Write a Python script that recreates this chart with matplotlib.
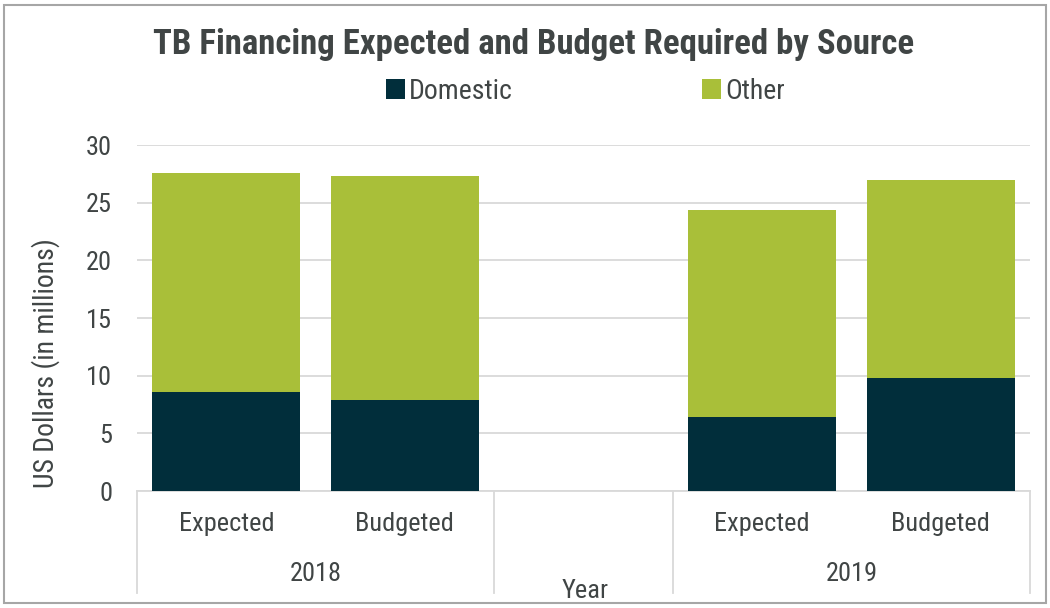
import numpy as np
import matplotlib.pyplot as plt
from matplotlib import font_manager
from matplotlib.patches import Rectangle
import matplotlib.transforms as mtransforms

# pick a condensed sans if one is installed
installed = {f.name for f in font_manager.fontManager.ttflist}
candidates = ['Roboto Condensed', 'Archivo Narrow', 'PT Sans Narrow', 'Fira Sans Condensed',
              'IBM Plex Sans Condensed', 'Open Sans Condensed', 'Barlow Condensed',
              'Encode Sans Condensed', 'Sofia Sans Condensed', 'Liberation Sans Narrow']
font = next((c for c in candidates if c in installed), 'DejaVu Sans')
plt.rcParams['font.family'] = [font, 'DejaVu Sans']

# data
bar_labels = ['Expected', 'Budgeted', '', 'Expected', 'Budgeted']
year_labels = ['2018', '2019']
year_slots = [(0, 1), (3, 4)]
domestic = [8.55, 7.87, np.nan, 6.41, 9.77]
other = [19.05, 19.48, np.nan, 17.99, 17.17]

c_dom = '#012E3B'
c_oth = '#A9BF39'
c_txt = '#404545'
c_grid = '#D9D9D9'

fig = plt.figure(figsize=(10.5, 6.08), dpi=100)
ax = fig.add_axes([0.1305, 0.1924, 0.8505, 0.5691])

x = np.arange(len(bar_labels))
dom = np.array(domestic)
oth = np.array(other)
ax.bar(x, dom, width=0.83, color=c_dom, label='Domestic', zorder=3)
ax.bar(x, oth, bottom=dom, width=0.83, color=c_oth, label='Other', zorder=3)

ax.set_xlim(-0.5, len(bar_labels) - 0.5)
ax.set_ylim(0, 30)
ax.set_yticks(range(0, 31, 5))
ax.yaxis.grid(True, color=c_grid, linewidth=1.3, zorder=0)
ax.tick_params(axis='y', length=0, labelsize=19, labelcolor=c_txt, pad=18)
ax.set_xticks([])
for s in ['top', 'right', 'left']:
    ax.spines[s].set_visible(False)
ax.spines['bottom'].set_color(c_grid)
ax.spines['bottom'].set_linewidth(1.3)
ax.set_ylabel('US Dollars (in millions)', fontsize=20, color=c_txt)
ax.yaxis.set_label_coords(-0.086, 0.37)

# category axis labels
trans = mtransforms.blended_transform_factory(ax.transData, ax.transAxes)
for i, lab in enumerate(bar_labels):
    ax.text(i, -0.095, lab, transform=trans, ha='center', va='center',
            fontsize=19, color=c_txt)
for (a, b), yl in zip(year_slots, year_labels):
    ax.text((a + b) / 2, -0.24, yl, transform=trans, ha='center', va='center',
            fontsize=19, color=c_txt)
for xs in [-0.5, 1.5, 2.5, 4.5]:
    ax.plot([xs, xs], [0, -0.295], transform=trans, color=c_grid,
            linewidth=1.3, clip_on=False)
ax.text(0.502, -0.29, 'Year', transform=ax.transAxes, ha='center', va='center',
        fontsize=19, color=c_txt)

fig.text(0.508, 0.926, 'TB Financing Expected and Budget Required by Source',
         ha='center', va='center', fontsize=25, fontweight='bold', color=c_txt)
leg = fig.legend(loc='center', bbox_to_anchor=(0.5576, 0.850), ncol=2,
                 frameon=False, fontsize=20, handlelength=0.7, handleheight=0.7,
                 handletextpad=0.15, columnspacing=6.8, labelcolor=c_txt)

fig.patches.append(Rectangle((0.004, 0.008), 0.992, 0.984, transform=fig.transFigure,
                             fill=False, edgecolor='#A6A6A6', linewidth=1.5))

fig.savefig('out.png', dpi=100)
